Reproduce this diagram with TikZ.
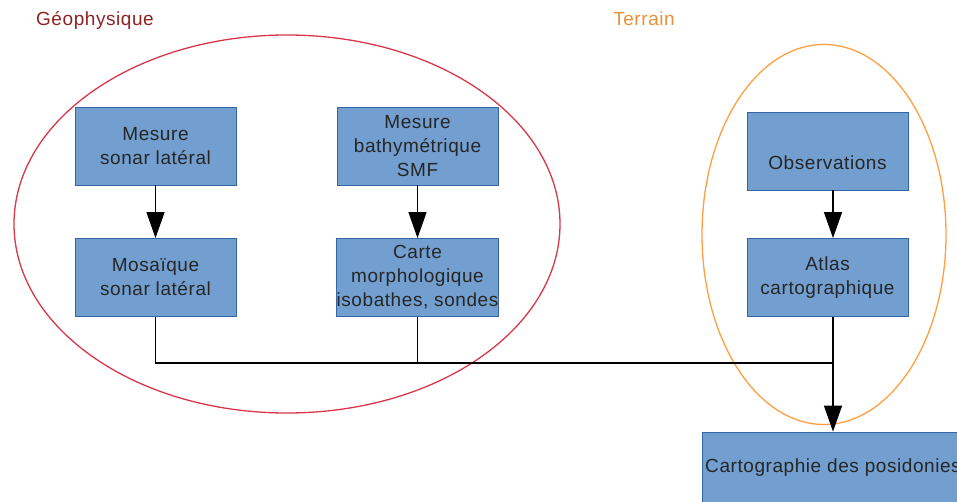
\documentclass[tikz,border=0pt]{standalone}
\usepackage{fontspec}
\setmainfont{Liberation Sans}[LetterSpace=3]
\usetikzlibrary{arrows.meta}
\definecolor{boxfill}{HTML}{729FCF}
\definecolor{boxline}{HTML}{3465A4}
\definecolor{geored}{HTML}{D9364A}
\definecolor{geotext}{HTML}{8E2222}
\definecolor{terorange}{HTML}{FFA040}
\definecolor{tertext}{HTML}{E8903A}
\tikzset{
  stage/.style={draw=boxline, fill=boxfill, line width=0.8pt,
    minimum width=161pt, minimum height=78pt, inner sep=0pt,
    align=center, text=black!85,
    font=\fontsize{19}{24}\selectfont},
  flow/.style={line width=1.3pt, -{Triangle[width=18pt,length=26pt]}},
  link/.style={line width=1.3pt},
  grouplabel/.style={anchor=base, font=\fontsize{19}{24}\selectfont},
}
\begin{document}
\begin{tikzpicture}[x=1pt,y=-1pt]
\useasboundingbox (0,0) rectangle (957,502);

% group outlines
\draw[geored, line width=1.3pt] (287,224) ellipse [x radius=273pt, y radius=189pt];
\draw[terorange, line width=1.3pt] (824,234.5) ellipse [x radius=122pt, y radius=190pt];

\node[grouplabel, text=geotext] (geo) at (95,26) {Géophysique};
\node[grouplabel, text=tertext] (ter) at (644,26) {Terrain};

% geophysics chain
\node[stage] (sonar) at (155.5,146) {Mesure\\sonar latéral};
\node[stage] (mosaic) at (155.5,277.5) {Mosaïque\\sonar latéral};
\node[stage] (bathy) at (417.5,146) {Mesure\\bathymétrique\\SMF};
\node[stage] (carte) at (417.5,277.5) {Carte\\morphologique\\isobathes, sondes};

% field chain
\node[stage] (obs) at (827.5,151) {};
\node[font=\fontsize{19}{24}\selectfont, text=black!85] (obstext) at (827.5,163) {Observations};
\node[stage] (atlas) at (827.5,277.5) {Atlas\\cartographique};

% result
\node[stage, minimum width=262pt, minimum height=72pt] (carto) at (833,468) {Cartographie des posidonies};

\coordinate (join) at (833,363);

\draw[flow] (sonar) -- (mosaic);
\draw[flow] (bathy) -- (carte);
\draw[flow] (obs.south -| join) -- (atlas.north -| join);
\draw[link] (mosaic.south) |- (join);
\draw[link] (carte.south) -- (carte.south |- join);
\draw[flow] (atlas.south -| join) -- (carto.north);
\end{tikzpicture}
\end{document}
